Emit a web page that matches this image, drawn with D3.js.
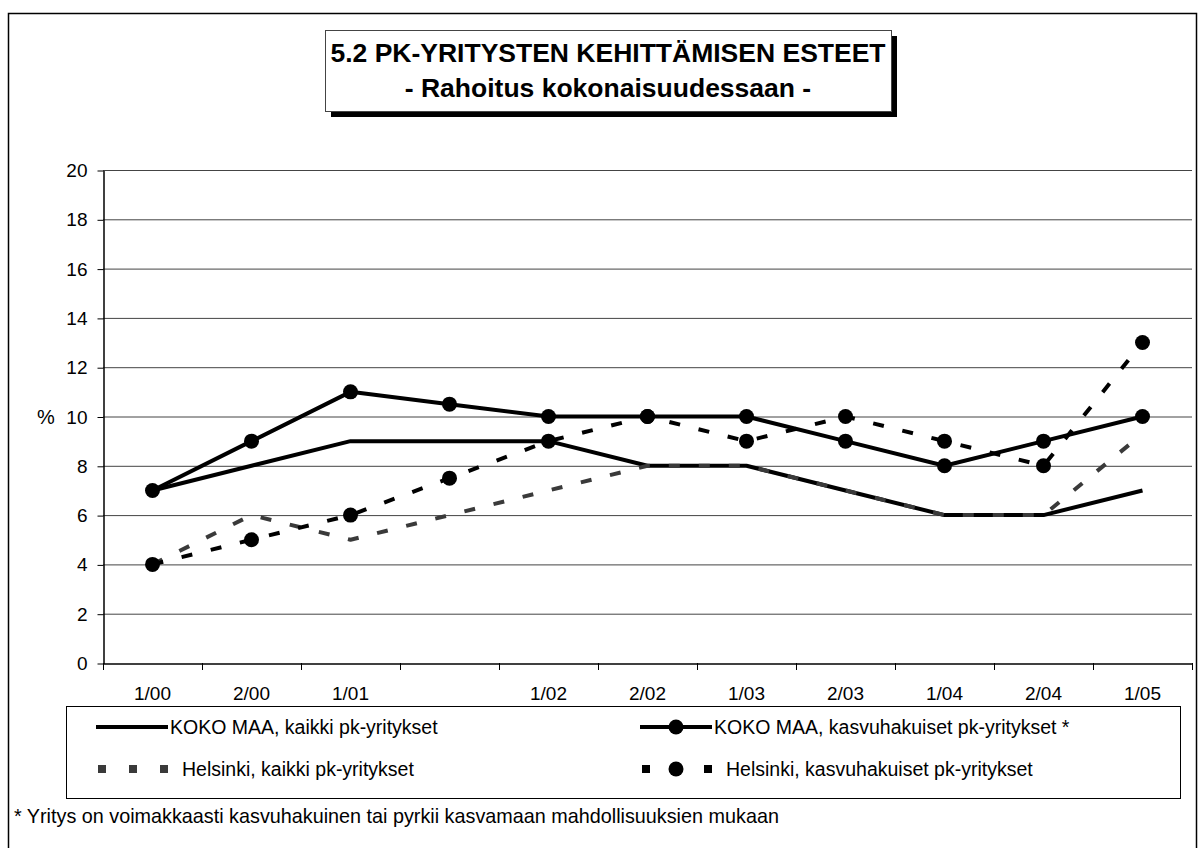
<!DOCTYPE html>
<html>
<head>
<meta charset="utf-8">
<script src="https://cdn.jsdelivr.net/npm/d3@7"></script>
<style>
  html, body { margin: 0; padding: 0; background: #fff; }
  svg { display: block; font-family: "Liberation Sans", Arial, sans-serif; }
</style>
</head>
<body>
<svg id="chart" width="1199" height="848"></svg>
<script>
// data
var periods = ["1/00", "2/00", "1/01", "", "1/02", "2/02", "1/03", "2/03", "1/04", "2/04", "1/05"];
var kokoKaikki = [7, 8, 9, 9, 9, 8, 8, 7, 6, 6, 7];
var kokoKasvu = [7, 9, 11, 10.5, 10, 10, 10, 9, 8, 9, 10];
var helKaikki = [4, 6, 5, 6, 7, 8, 8, 7, 6, 6, 9.3];
var helKasvu = [4, 5, 6, 7.5, 9, 10, 9, 10, 9, 8, 13];
var yTicks = [0, 2, 4, 6, 8, 10, 12, 14, 16, 18, 20];

var series = [
    {name: "KOKO MAA, kaikki pk-yritykset", values: kokoKaikki, color: "#000", dash: null, dots: false},
    {name: "KOKO MAA, kasvuhakuiset pk-yritykset *", values: kokoKasvu, color: "#000", dash: null, dots: true},
    {name: "Helsinki, kaikki pk-yritykset", values: helKaikki, color: "#3a3a3a", dash: "11,19", dots: false},
    {name: "Helsinki, kasvuhakuiset pk-yritykset", values: helKasvu, color: "#000", dash: "11,19", dots: true}
];

var svg = d3.select("#chart");

// outer frame
svg.append("rect")
    .attr("x", 8.5).attr("y", 13.5)
    .attr("width", 1188).attr("height", 850)
    .attr("fill", "none").attr("stroke", "#000").attr("stroke-width", 1.5);

var plotLeft = 103, plotRight = 1192, plotTop = 170, plotBottom = 663;

var x = d3.scaleBand().domain(d3.range(periods.length)).range([plotLeft, plotRight]);
var y = d3.scaleLinear().domain([0, 20]).range([plotBottom, plotTop]);

// gridlines
svg.append("g")
    .selectAll("line")
    .data(yTicks.slice(1))
    .join("line")
    .attr("x1", plotLeft).attr("x2", plotRight)
    .attr("y1", function(d){ return y(d) + 0.5; })
    .attr("y2", function(d){ return y(d) + 0.5; })
    .attr("stroke", "#444").attr("stroke-width", 1);

// y axis
var yAxis = svg.append("g")
    .attr("transform", "translate(" + (plotLeft + 0.5) + ",0.5)")
    .call(d3.axisLeft(y).tickValues(yTicks).tickSize(6).tickPadding(10).tickSizeOuter(0));
yAxis.select(".domain").attr("stroke", "#000").attr("stroke-width", 1.5);
yAxis.selectAll(".tick line").attr("stroke", "#000");
yAxis.selectAll("text").attr("font-size", 19).attr("fill", "#000")
    .attr("font-family", "Liberation Sans, Arial, sans-serif");

svg.append("text")
    .attr("x", 46).attr("y", y(10))
    .attr("dy", "0.35em")
    .attr("text-anchor", "middle")
    .attr("font-size", 20)
    .text("%");

// x axis: labels centred in bands, ticks at band edges
var xAxis = svg.append("g")
    .attr("transform", "translate(0," + (plotBottom + 0.5) + ")")
    .call(d3.axisBottom(x).tickFormat(function(i){ return periods[i]; }).tickSize(0).tickPadding(23).tickSizeOuter(0));
xAxis.select(".domain").attr("stroke", "#000").attr("stroke-width", 1.5);
xAxis.selectAll("text").attr("font-size", 19).attr("fill", "#000")
    .attr("font-family", "Liberation Sans, Arial, sans-serif");

var edges = d3.range(periods.length).map(function(i){ return x(i); }).concat([x.range()[1]]);
svg.append("g")
    .selectAll("line")
    .data(edges)
    .join("line")
    .attr("x1", function(d){ return d + 0.5; })
    .attr("x2", function(d){ return d + 0.5; })
    .attr("y1", plotBottom).attr("y2", plotBottom + 7)
    .attr("stroke", "#000").attr("stroke-width", 1);

// series
var cx = function(d, i){ return x(i) + x.bandwidth() / 2; };
var line = d3.line().x(cx).y(function(d){ return y(d); });

series.forEach(function(s){
    svg.append("path")
        .datum(s.values)
        .attr("d", line)
        .attr("fill", "none")
        .attr("stroke", s.color)
        .attr("stroke-width", 4)
        .attr("stroke-dasharray", s.dash)
        .attr("stroke-linejoin", "round");
    if(s.dots){
        svg.append("g")
            .selectAll("circle")
            .data(s.values)
            .join("circle")
            .attr("cx", cx)
            .attr("cy", function(d){ return y(d); })
            .attr("r", 7.5)
            .attr("fill", "#000");
    }
});

// title box with shadow
var tb = {x: 325, y: 30, w: 566, h: 81};
svg.append("rect")
    .attr("x", tb.x + 6).attr("y", tb.y + 6)
    .attr("width", tb.w).attr("height", tb.h)
    .attr("fill", "#000");
svg.append("rect")
    .attr("x", tb.x + 0.5).attr("y", tb.y + 0.5)
    .attr("width", tb.w).attr("height", tb.h)
    .attr("fill", "#fff").attr("stroke", "#444").attr("stroke-width", 1);
var titleLines = ["5.2 PK-YRITYSTEN KEHITTÄMISEN ESTEET", "- Rahoitus kokonaisuudessaan -"];
svg.append("g")
    .selectAll("text")
    .data(titleLines)
    .join("text")
    .attr("x", tb.x + tb.w / 2)
    .attr("y", function(d, i){ return 62 + i * 35; })
    .attr("text-anchor", "middle")
    .attr("font-size", 26.5)
    .attr("font-weight", "bold")
    .text(function(d){ return d; });

// legend
var lg = {x: 66, y: 706, w: 1114, h: 92};
svg.append("rect")
    .attr("x", lg.x + 0.5).attr("y", lg.y + 0.5)
    .attr("width", lg.w).attr("height", lg.h)
    .attr("fill", "#fff").attr("stroke", "#000").attr("stroke-width", 1);

var legendPos = [
    {x: 96, y: 727},
    {x: 640, y: 727},
    {x: 96, y: 769},
    {x: 640, y: 769}
];
series.forEach(function(s, i){
    var p = legendPos[i];
    var g = svg.append("g").attr("transform", "translate(" + p.x + "," + p.y + ")");
    g.append("line")
        .attr("x1", 0).attr("x2", 72)
        .attr("y1", 0).attr("y2", 0)
        .attr("stroke", s.color)
        .attr("stroke-width", s.dash ? 8 : 4)
        .attr("stroke-dasharray", s.dash ? "8,23" : null)
        .attr("stroke-dashoffset", s.dash ? -2 : 0);
    if(s.dots){
        g.append("circle").attr("cx", 36).attr("cy", 0).attr("r", 7.5).attr("fill", "#000");
    }
    g.append("text")
        .attr("x", s.dash ? 86 : 74).attr("y", 0)
        .attr("dy", "0.35em")
        .attr("font-size", 19.5)
        .text(s.name);
});

// footnote
svg.append("text")
    .attr("x", 14).attr("y", 823)
    .attr("font-size", 19.8)
    .text("* Yritys on voimakkaasti kasvuhakuinen tai pyrkii kasvamaan mahdollisuuksien mukaan");
</script>
</body>
</html>
